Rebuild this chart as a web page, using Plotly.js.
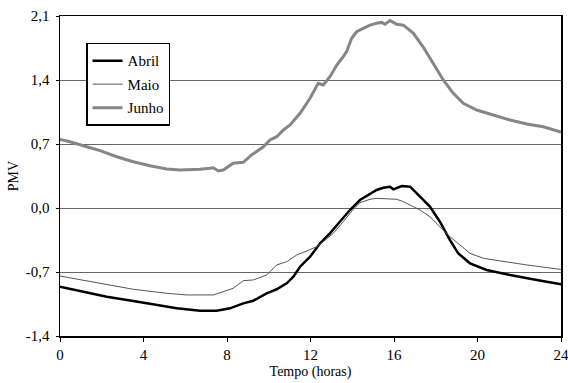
<!DOCTYPE html>
<html><head><meta charset="utf-8">
<script src="https://cdn.plot.ly/plotly-3.0.1.min.js"></script>
<style>body{margin:0;background:#fff}#c{width:568px;height:383px}</style>
</head><body><div id="c"></div>
<script>
const junhoX = [0,0.48,1.28,1.92,2.72,3.51,4.31,5.11,5.75,6.23,6.7,7.19,7.35,7.58,7.82,8.30,8.78,9.18,9.74,10.06,10.38,10.70,11.02,11.50,11.98,12.37,12.61,12.93,13.26,13.57,13.73,13.97,14.21,14.53,14.85,15.17,15.41,15.57,15.81,16.13,16.45,16.93,17.40,17.88,18.36,18.84,19.32,19.96,20.76,21.56,22.36,23.15,24];
const junhoY = [0.75,0.725,0.67,0.627,0.561,0.506,0.463,0.427,0.416,0.416,0.423,0.434,0.44,0.405,0.416,0.489,0.50,0.58,0.67,0.744,0.78,0.853,0.908,1.036,1.20,1.364,1.345,1.436,1.564,1.655,1.71,1.856,1.928,1.965,2.00,2.02,2.03,2.01,2.05,2.01,2.00,1.91,1.76,1.58,1.40,1.254,1.145,1.072,1.017,0.962,0.919,0.889,0.83];

const abrilX = [0,1.12,2.24,3.51,4.31,5.59,6.71,7.51,8.14,8.78,9.26,9.90,10.38,10.86,11.18,11.50,11.98,12.46,12.93,13.41,13.89,14.37,14.69,15.17,15.49,15.81,15.97,16.37,16.77,17.25,17.72,18.20,18.68,19.08,19.64,20.44,21.56,22.84,24];
const abrilY = [-0.86,-0.915,-0.97,-1.017,-1.05,-1.097,-1.123,-1.123,-1.097,-1.043,-1.014,-0.933,-0.889,-0.824,-0.751,-0.642,-0.533,-0.386,-0.277,-0.15,-0.022,0.087,0.131,0.197,0.222,0.233,0.204,0.241,0.233,0.124,0.015,-0.15,-0.35,-0.496,-0.605,-0.678,-0.733,-0.787,-0.833];

const maioX = [0,1.92,3.51,5.11,6.07,7.35,7.82,8.30,8.78,9.26,9.90,10.38,10.86,11.34,11.82,12.30,12.61,13.09,13.57,14.05,14.37,14.85,15.17,15.81,16.13,16.45,17.25,17.72,18.20,18.68,19.16,19.64,20.28,21.24,22.36,24];
const maioY = [-0.744,-0.824,-0.889,-0.933,-0.951,-0.951,-0.915,-0.878,-0.795,-0.787,-0.733,-0.623,-0.587,-0.514,-0.47,-0.423,-0.369,-0.277,-0.15,-0.014,0.058,0.095,0.106,0.095,0.095,0.069,-0.022,-0.095,-0.204,-0.314,-0.405,-0.496,-0.55,-0.587,-0.623,-0.672];

const xTicks = [0,4,8,12,16,20,24];
const yTicks = [-1.4,-0.7,0,0.7,1.4,2.1];
const yTickText = ["-1,4","-0,7","0,0","0,7","1,4","2,1"];

const traces = [
  {x: abrilX, y: abrilY, name: 'Abril', legendgroup: 'a', mode: 'lines', line: {color: '#000000', width: 2.5}},
  {x: maioX, y: maioY, name: 'Maio', legendgroup: 'm', mode: 'lines', line: {color: '#555555', width: 1}},
  {x: junhoX, y: junhoY, name: 'Junho', legendgroup: 'j', mode: 'lines', line: {color: '#868686', width: 3}}
];

const layout = {
  width: 568, height: 383,
  margin: {l: 60, r: 7, t: 16, b: 47},
  paper_bgcolor: '#ffffff', plot_bgcolor: '#ffffff',
  font: {family: 'Liberation Serif', size: 15, color: '#000'},
  showlegend: true,
  legend: {x: 0.052, y: 0.916, xanchor: 'left', yanchor: 'top', bgcolor: '#ffffff',
           bordercolor: '#000', borderwidth: 1.5, font: {family: 'Liberation Serif', size: 15}, itemwidth: 30, tracegroupgap: 1},
  xaxis: {range: [0, 24], tickvals: xTicks, ticktext: xTicks.map(String), ticks: 'outside', ticklen: 4,
          tickcolor: '#000', showline: true, linecolor: '#000', linewidth: 1.5, mirror: true,
          showgrid: false, zeroline: false, ticklabeloverflow: 'allow',
          title: {text: 'Tempo (horas)', standoff: 4, font: {size: 14}},
          tickfont: {size: 15}},
  yaxis: {range: [-1.4, 2.1], tickvals: yTicks, ticktext: yTickText, ticks: 'outside', ticklen: 3,
          tickcolor: '#000', showline: true, linecolor: '#000', linewidth: 1.5, mirror: true,
          showgrid: true, gridcolor: '#666', gridwidth: 1, zeroline: false, ticklabelstandoff: 3,
          title: {text: 'PMV', standoff: 4, font: {size: 14}}, tickfont: {size: 15}}
};

Plotly.newPlot('c', traces, layout, {displayModeBar: false, staticPlot: true});
</script></body></html>
